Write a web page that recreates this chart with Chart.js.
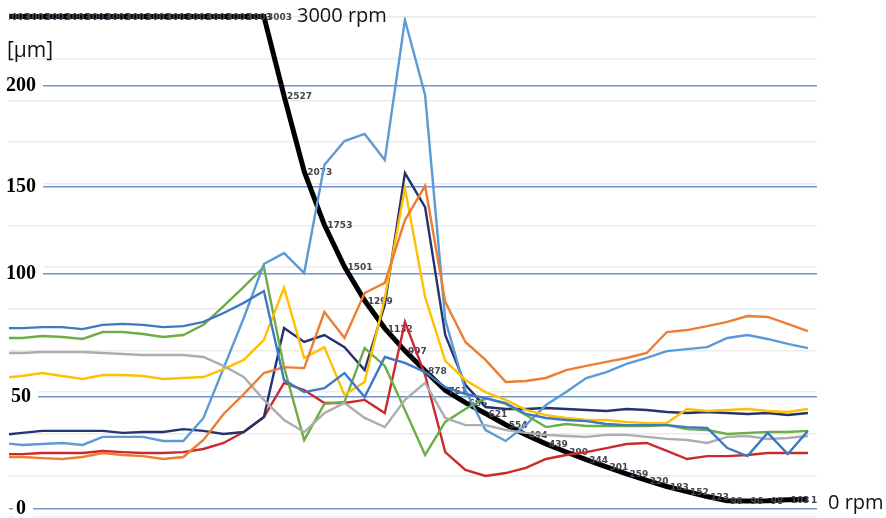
<!DOCTYPE html>
<html><head><meta charset="utf-8">
<script src="https://cdn.jsdelivr.net/npm/chart.js@4.4.1/dist/chart.umd.min.js"></script>
<style>html,body{margin:0;padding:0;background:#fff;overflow:hidden}#wrap{width:886px;height:518px}</style>
</head><body><div id="wrap"><canvas id="c" width="886" height="518"></canvas></div>
<script>
// ---- data ----
const steps = [0,1,2,3,4,5,6,7,8,9,10,11,12,13,14,15,16,17,18,19,20,21,22,23,24,25,26,27,28,29,30,31,32,33,34,35,36,37,38,39,40];
const rpm = [3003,3003,3003,3003,3003,3003,3003,3003,3003,3003,3003,3003,3003,3003,2527,2073,1753,1501,1299,1132,997,878,761,686,621,554,494,439,390,344,301,259,220,183,152,123,98,96,98,103,107];
const umTicks = [0,50,100,150,200];
const rpmTicks = [0,250,500,750,1000,1250,1500,1750,2000,2250,2500,2750,3000];
const blueMid = [77.9,77.9,78.3,78.3,77.5,79.2,79.6,79.2,78.3,78.7,80.4,84.0,88.1,92.9,56.9,52.0,53.6,59.7,50.0,66.2,63.8,60.1,54.0,51.2,49.5,47.3,42.4,40.6,39.7,39.2,37.9,37.4,37.4,37.4,36.5,36.1,27.1,23.5,33.9,24.4,34.8];
const orange = [23.1,23.1,22.6,22.2,23.1,24.9,24.0,23.5,22.2,23.1,30.7,42.4,51.2,59.7,62.1,61.7,84.4,73.9,92.1,96.2,130.9,150.5,88.5,72.3,65.0,56.1,56.5,57.7,60.9,62.6,64.2,65.8,67.8,76.3,77.1,78.7,80.4,82.8,82.4,79.6,76.7];
const grey = [67.8,67.8,68.2,68.2,68.2,67.8,67.4,67.0,67.0,67.0,66.2,62.6,58.1,48.7,39.7,34.3,42.8,47.3,40.6,36.5,48.7,55.7,40.6,37.4,37.4,35.2,33.9,33.0,32.5,32.1,33.0,33.0,32.1,31.2,30.7,29.4,32.1,32.5,31.2,31.6,32.5];
const yellow = [57.7,58.5,59.7,58.5,57.3,58.9,58.9,58.5,57.3,57.7,58.1,61.3,65.0,73.1,94.2,65.8,70.2,50.8,56.1,90.0,149.4,90.5,64.6,56.9,52.0,48.7,44.2,41.9,40.6,39.7,39.7,38.8,38.3,38.3,44.6,43.7,44.2,44.6,43.7,43.3,44.6];
const blueLight = [29.4,28.5,28.9,29.4,28.5,32.1,32.1,32.1,30.3,30.3,40.6,61.7,82.0,105.5,111.8,100.3,160.9,172.7,176.2,163.3,232.4,195.4,81.2,52.8,35.2,30.3,37.4,46.4,52.0,57.7,60.1,63.4,65.8,68.6,69.4,70.2,73.9,75.1,73.5,71.5,69.8];
const green = [73.9,73.9,74.7,74.3,73.5,76.3,76.3,75.5,74.3,75.1,79.2,86.8,94.6,103.8,62.1,30.7,46.9,47.8,69.8,62.6,44.2,24.0,38.8,44.6,49.5,46.9,41.9,36.5,37.9,37.0,37.0,37.0,37.0,37.4,35.6,35.2,33.4,33.9,34.3,34.3,34.8];
const navy = [33.0,33.9,34.8,34.8,34.8,34.8,33.9,34.3,34.3,35.6,34.8,33.4,34.3,41.0,77.9,72.3,75.1,70.2,60.9,87.3,156.9,138.4,75.1,54.9,45.5,44.6,44.6,45.1,44.6,44.2,43.7,44.6,44.2,43.3,42.8,43.3,42.8,42.4,42.8,41.9,42.8];
const red = [24.4,24.4,24.9,24.9,24.9,25.8,25.3,24.9,24.9,25.3,26.7,29.4,34.3,41.0,55.7,52.8,47.3,47.3,48.7,42.8,80.4,58.9,25.3,17.3,14.6,15.9,18.2,22.2,24.0,25.3,27.1,28.9,29.4,25.8,22.2,23.5,23.5,24.0,24.9,24.9,24.9];
const unitLabel = '[µm]';
const topLabel = '3000 rpm';
const bottomLabel = '0 rpm';

// ---- irregular µm axis (the reference's gridlines are unevenly spaced) ----
const warpValues = [0, 50, 100, 150, 200];
const warpFractions = [0.017, 0.240, 0.487, 0.660, 0.8626];
class WarpedLinearScale extends Chart.LinearScale {
  _warp(v) {
    const b = warpValues, f = warpFractions, n = b.length;
    let i = 0;
    if (v >= b[n - 1]) i = n - 2;
    else if (v > b[0]) { while (i < n - 2 && v > b[i + 1]) i++; }
    return f[i] + (v - b[i]) * (f[i + 1] - f[i]) / (b[i + 1] - b[i]);
  }
  getPixelForValue(v) {
    if (v === null || v === undefined || isNaN(v)) return NaN;
    return this.getPixelForDecimal(this._warp(v));
  }
  getValueForPixel(p) {
    const d = this.getDecimalForPixel(p);
    const b = warpValues, f = warpFractions, n = b.length;
    let i = 0;
    if (d >= f[n - 1]) i = n - 2;
    else if (d > f[0]) { while (i < n - 2 && d > f[i + 1]) i++; }
    return b[i] + (d - f[i]) * (b[i + 1] - b[i]) / (f[i + 1] - f[i]);
  }
}
WarpedLinearScale.id = 'warpedLinear';
WarpedLinearScale.defaults = Chart.LinearScale.defaults;
Chart.register(WarpedLinearScale);

const pts = arr => steps.map((s, i) => ({x: s, y: arr[i]}));
const colored = (label, arr, color) => ({
  label, data: pts(arr), borderColor: color, backgroundColor: color,
  borderWidth: 2.4, pointRadius: 0, tension: 0, yAxisID: 'y', order: 1,
  clip: {left: 0, top: 0, right: 0, bottom: 0}
});

const rpmLabelPlugin = {
  id: 'rpmLabels',
  afterDatasetDraw(chart, args) {
    if (chart.data.datasets[args.index].yAxisID !== 'rpm') return;
    const ctx = chart.ctx, a = chart.chartArea;
    ctx.save();
    ctx.beginPath(); ctx.rect(a.left, 0, a.right - a.left, chart.height); ctx.clip();
    ctx.font = 'bold 9px "DejaVu Sans"';
    ctx.fillStyle = '#444452';
    ctx.textAlign = 'left'; ctx.textBaseline = 'middle';
    args.meta.data.forEach((pt, i) => ctx.fillText(String(rpm[i]), pt.x + 3, pt.y + 1));
    ctx.restore();
  }
};
const textPlugin = {
  id: 'texts',
  afterDraw(chart) {
    const ctx = chart.ctx;
    ctx.save();
    ctx.fillStyle = '#111';
    ctx.textBaseline = 'alphabetic'; ctx.textAlign = 'left';
    ctx.font = '21px "Open Sans"';
    ctx.fillText(unitLabel, 7, 57);
    ctx.font = '20px "Open Sans"';
    ctx.fillText(topLabel, 297, 22);
    ctx.fillText(bottomLabel, 828, 509);
    ctx.restore();
  }
};

new Chart(document.getElementById('c'), {
  type: 'line',
  data: {
    datasets: [
      colored('S1', blueMid, '#3D79C4'),
      colored('S2', orange, '#ED7D31'),
      colored('S3', grey, '#ADADAD'),
      colored('S4', yellow, '#FFC000'),
      colored('S5', blueLight, '#5B9BD5'),
      colored('S6', green, '#6DAD46'),
      colored('S7', navy, '#25336E'),
      colored('S8', red, '#CB2A2C'),
      { label: 'rpm', data: pts(rpm), borderColor: '#000', backgroundColor: '#000', borderWidth: 5,
        pointRadius: 0, tension: 0, yAxisID: 'rpm', order: 10, clip: {left: 0, top: false, right: 0, bottom: 0} }
    ]
  },
  options: {
    responsive: false, animation: false,
    layout: {padding: {left: 9, right: 69, top: 17, bottom: 1}},
    plugins: {legend: {display: false}, tooltip: {enabled: false}},
    scales: {
      x: {type: 'linear', min: 0.35, max: 40.45, display: false},
      y: {
        type: 'warpedLinear', position: 'left', min: 0, max: 200,
        afterBuildTicks: s => { s.ticks = umTicks.map(v => ({value: v})); },
        afterFit: s => { s.paddingTop = 0; s.paddingBottom = 0; s.paddingLeft = 0; s.paddingRight = 0; },
        grid: {color: '#7094CE', lineWidth: 1.5, drawTicks: false},
        border: {display: false},
        ticks: {
          autoSkip: false, mirror: true, crossAlign: 'center', padding: -1,
          font: {family: '"Liberation Serif"', size: 20, weight: 'bold'}, color: '#000',
          showLabelBackdrop: true, backdropColor: '#fff',
          backdropPadding: {left: 3, right: 7, top: 0, bottom: 0},
          callback: v => String(v)
        }
      },
      rpm: {
        type: 'linear', position: 'right', min: 0, max: 3000,
        afterBuildTicks: s => { s.ticks = rpmTicks.map(v => ({value: v})); },
        afterFit: s => { s.paddingTop = 0; s.paddingBottom = 0; },
        grid: {color: '#EBEBEB', lineWidth: 1.5, drawTicks: false},
        border: {display: false},
        ticks: {display: false}
      }
    }
  },
  plugins: [rpmLabelPlugin, textPlugin]
});
</script></body></html>
